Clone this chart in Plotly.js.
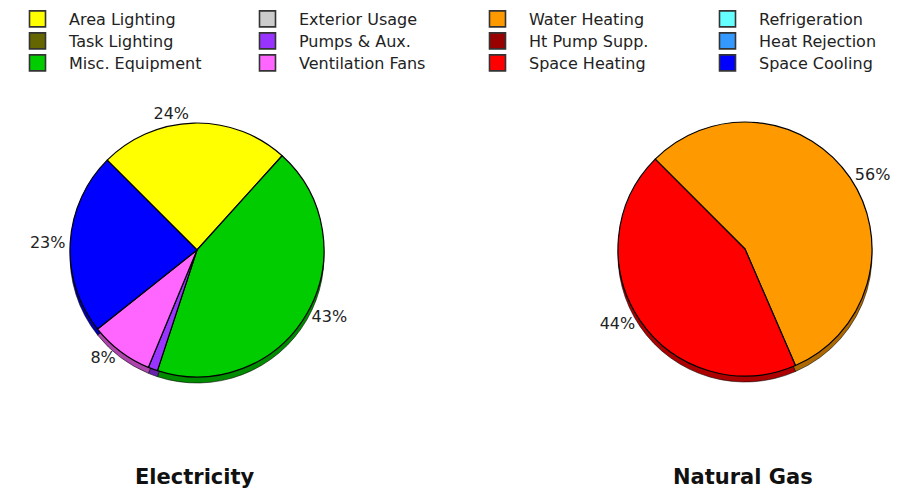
<!DOCTYPE html>
<html><head><meta charset="utf-8">
<script src="https://cdn.plot.ly/plotly-3.0.1.min.js"></script>
<style>html,body{margin:0;padding:0;background:#fff;}#chart{width:901px;height:492px;}</style>
</head><body><div id="chart"></div>
<script>
// ---- data ----
const categories = ['Area Lighting','Task Lighting','Misc. Equipment',
                    'Exterior Usage','Pumps & Aux.','Ventilation Fans',
                    'Water Heating','Ht Pump Supp.','Space Heating',
                    'Refrigeration','Heat Rejection','Space Cooling'];
const colors = ['#FFFF00','#666600','#00CC00',
                '#CCCCCC','#9933FF','#FF66FF',
                '#FF9900','#990000','#FF0000',
                '#66FFFF','#3399FF','#0000FF'];
const electricity = [24, 0, 43, 0, 1.2, 8, 0, 0, 0, 0, 0, 23];
const naturalGas  = [0, 0, 0, 0, 0, 0, 56, 0, 44, 0, 0, 0];
const chartTitles = ['Electricity', 'Natural Gas'];

// ---- helpers ----
function darken(hex, f) {
  const n = parseInt(hex.slice(1), 16);
  const r = Math.round(((n >> 16) & 255) * f), g = Math.round(((n >> 8) & 255) * f), b = Math.round((n & 255) * f);
  return 'rgb(' + r + ',' + g + ',' + b + ')';
}
function pieParts(vals) {
  const idx = vals.map((v, i) => i).filter(i => vals[i] > 0);
  const total = idx.reduce((s, i) => s + vals[i], 0);
  return {
    labels: idx.map(i => categories[i]),
    values: idx.map(i => vals[i]),
    colors: idx.map(i => colors[i]),
    shadow: idx.map(i => darken(colors[i], 0.68)),
    textpos: idx.map(i => vals[i] / total >= 0.02 ? 'outside' : 'none')
  };
}

const W = 901, H = 492;
const R = 127, shadowDy = 6;
const centers = [[197, 250], [745, 249]];
function dom(cx, cy, dy) {
  return {x: [(cx - R) / W, (cx + R) / W], y: [(H - cy - dy - R) / H, (H - cy - dy + R) / H]};
}

const data = [];
[electricity, naturalGas].forEach((vals, k) => {
  const p = pieParts(vals);
  const [cx, cy] = centers[k];
  data.push({
    type: 'pie', labels: p.labels, values: p.values, sort: false, direction: 'clockwise',
    rotation: -45, domain: dom(cx, cy, shadowDy), showlegend: false, hoverinfo: 'skip',
    textinfo: 'none', textposition: 'none',
    marker: {colors: p.shadow, line: {color: 'rgba(0,0,0,0.55)', width: 1}}
  });
  data.push({
    type: 'pie', labels: p.labels, values: p.values, sort: false, direction: 'clockwise',
    rotation: -45, domain: dom(cx, cy, 0), showlegend: false,
    texttemplate: '%{percent:.0%}', textposition: p.textpos,
    outsidetextfont: {family: 'DejaVu Sans', size: 16, color: '#222'},
    marker: {colors: p.colors, line: {color: '#000', width: 1.2}}
  });
});

// legend entries: 4 columns x 3 rows, one small legend per entry
const legendBase = {
  orientation: 'v', xanchor: 'left', yanchor: 'top',
  font: {family: 'DejaVu Sans', size: 16, color: '#222'},
  bgcolor: 'rgba(0,0,0,0)', borderwidth: 0, itemwidth: 53, itemclick: false, itemdoubleclick: false
};
const layout = {
  width: W, height: H, margin: {l: 0, r: 0, t: 0, b: 0},
  paper_bgcolor: '#fff', plot_bgcolor: '#fff',
  xaxis: {visible: false}, yaxis: {visible: false},
  showlegend: true,
  annotations: chartTitles.map((t, k) => ({
    text: t, xref: 'paper', yref: 'paper', x: [195, 743][k] / W, y: (H - 477) / H,
    xanchor: 'center', yanchor: 'middle', showarrow: false,
    font: {family: 'DejaVu Sans', size: 21, weight: 'bold', color: '#111'}
  }))
};
categories.forEach((c, i) => {
  const col = Math.floor(i / 3), row = i % 3;
  const lid = i === 0 ? 'legend' : 'legend' + (i + 1);
  data.push({
    type: 'scatter', mode: 'markers', x: [null], y: [null], name: c, legend: lid,
    marker: {symbol: 'square', size: 16, color: colors[i], line: {color: '#333', width: 1.6}},
    hoverinfo: 'skip'
  });
  const rowCenter = 19 + 22 * row;
  layout[lid] = Object.assign({}, legendBase, {x: (6 + 230 * col) / W, y: 1 - (rowCenter - 17) / H});
});
Plotly.newPlot('chart', data, layout, {displayModeBar: false, staticPlot: true});
</script></body></html>
